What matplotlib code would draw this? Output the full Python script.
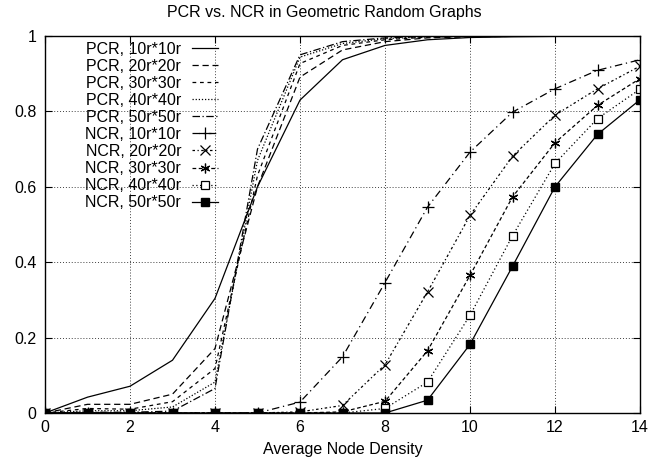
import numpy as np
import matplotlib.pyplot as plt
from matplotlib.ticker import MultipleLocator, FuncFormatter

plt.rcParams['font.family'] = ['Liberation Sans', 'DejaVu Sans']

# ===================== DADOS =====================
density = list(range(0, 15))

pcr_10 = [0, 0.042, 0.071, 0.14, 0.304, 0.60, 0.83, 0.937, 0.975, 0.99, 0.996, 0.998, 0.999, 1.0, 1.0]
pcr_20 = [0, 0.023, 0.023, 0.05, 0.171, 0.60, 0.891, 0.963, 0.985, 0.995, 0.998, 0.999, 1.0, 1.0, 1.0]
pcr_30 = [0, 0.012, 0.01, 0.03, 0.118, 0.63, 0.927, 0.975, 0.99, 0.997, 0.999, 1.0, 1.0, 1.0, 1.0]
pcr_40 = [0, 0.006, 0.006, 0.016, 0.082, 0.67, 0.944, 0.98, 0.993, 0.998, 1.0, 1.0, 1.0, 1.0, 1.0]
pcr_50 = [0, 0.002, 0.002, 0.005, 0.065, 0.70, 0.95, 0.985, 0.995, 0.999, 1.0, 1.0, 1.0, 1.0, 1.0]

ncr_10 = [0, 0, 0, 0, 0, 0, 0.029, 0.149, 0.346, 0.546, 0.692, 0.798, 0.860, 0.909, 0.937]
ncr_20 = [0, 0, 0, 0, 0, 0, 0.003, 0.02, 0.128, 0.321, 0.524, 0.681, 0.79, 0.86, 0.92]
ncr_30 = [0, 0, 0, 0, 0, 0, 0, 0.003, 0.031, 0.165, 0.365, 0.573, 0.717, 0.816, 0.887]
ncr_40 = [0, 0, 0, 0, 0, 0, 0, 0, 0.012, 0.082, 0.259, 0.47, 0.662, 0.781, 0.859]
ncr_50 = [0, 0, 0, 0, 0, 0, 0, 0, 0, 0.034, 0.182, 0.389, 0.60, 0.739, 0.831]

# ===================== FIGURA =====================
fig = plt.figure(figsize=(6.49, 4.67), dpi=100)
ax = fig.add_axes([45/649, 1 - 413/467, 595/649, 377/467])

lw = 0.9
ax.plot(density, pcr_10, color='black', lw=lw, ls='-', label='PCR, 10r*10r')
ax.plot(density, pcr_20, color='black', lw=lw, ls=(0, (5, 3)), label='PCR, 20r*20r')
ax.plot(density, pcr_30, color='black', lw=lw, ls=(0, (3, 3)), label='PCR, 30r*30r')
ax.plot(density, pcr_40, color='black', lw=lw, ls=(0, (1, 1.5)), label='PCR, 40r*40r')
ax.plot(density, pcr_50, color='black', lw=lw, ls=(0, (6, 2, 1, 2)), label='PCR, 50r*50r')

ax.plot(density, ncr_10, color='black', lw=lw, ls=(0, (6, 3, 1, 3)),
        marker='+', ms=8, mew=0.9, label='NCR, 10r*10r')
ax.plot(density, ncr_20, color='black', lw=lw, ls=(0, (2, 2, 1, 2)),
        marker='x', ms=7, mew=0.9, label='NCR, 20r*20r')
ax.plot(density, ncr_30, color='black', lw=lw, ls=(0, (3, 2)),
        marker=(6, 2, 0), ms=7, mew=0.9, label='NCR, 30r*30r')
ax.plot(density, ncr_40, color='black', lw=lw, ls=(0, (1, 2)),
        marker='s', ms=5.5, mew=0.9, mfc='white', label='NCR, 40r*40r')
ax.plot(density, ncr_50, color='black', lw=lw, ls='-',
        marker='s', ms=6, mfc='black', label='NCR, 50r*50r')

# ===================== EIXOS =====================
ax.set_xlim(0, 14)
ax.set_ylim(0, 1)
ax.xaxis.set_major_locator(MultipleLocator(2))
ax.yaxis.set_major_locator(MultipleLocator(0.2))
ax.yaxis.set_major_formatter(FuncFormatter(lambda v, p: f'{v:g}'))
ax.tick_params(axis='both', direction='in', length=5, width=0.8,
               top=True, right=True, labelsize=11.5, pad=6)
ax.tick_params(axis='x', pad=5)
for s in ax.spines.values():
    s.set_linewidth(1.0)

ax.grid(True, color='0.25', linestyle=(0, (1, 2)), linewidth=0.7)
ax.set_axisbelow(True)

ax.set_xlabel('Average Node Density', fontsize=11.5, labelpad=5)
fig.text(0.5, 1 - 12/467, 'PCR vs. NCR in Geometric Random Graphs',
         ha='center', va='center', fontsize=11.5)

# ===================== LEGENDA =====================
leg = ax.legend(loc='upper right', frameon=False, markerfirst=False,
                fontsize=11.5, handlelength=1.6, handletextpad=0.7,
                labelspacing=0.13, borderaxespad=0.0, borderpad=0.35,
                bbox_to_anchor=(0.30, 1.0))

fig.savefig('out.png', dpi=100)
